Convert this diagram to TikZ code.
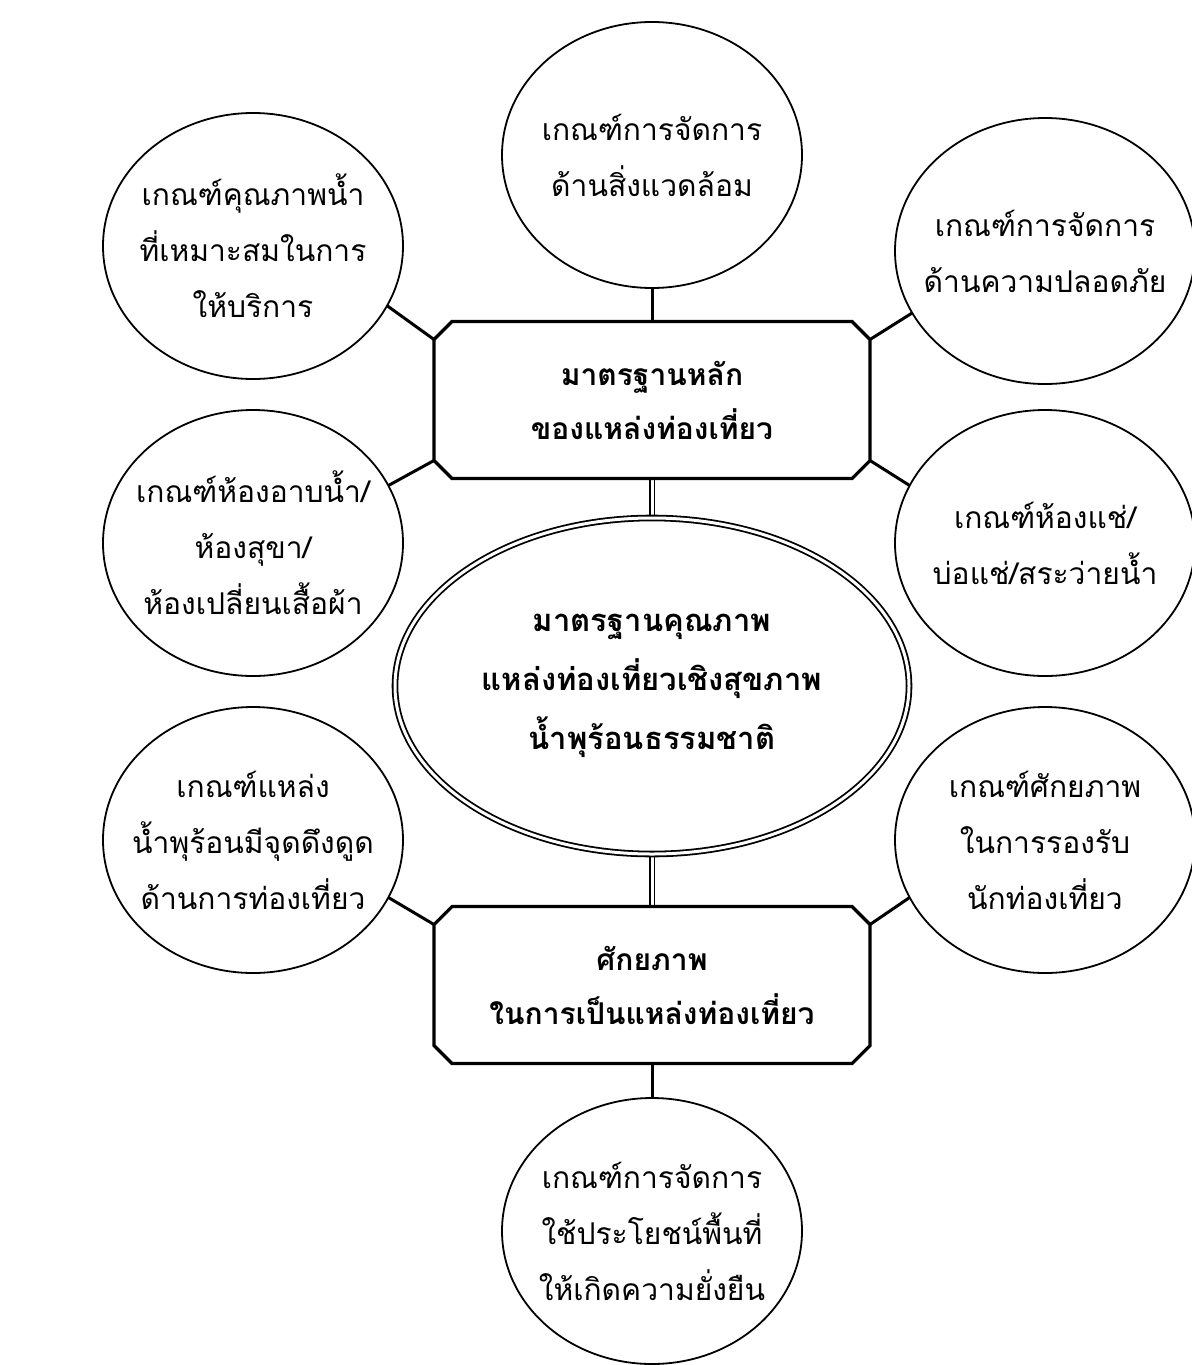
\documentclass[tikz,border=0pt]{standalone}
\usepackage{fontspec}
\newfontfamily\thaifont[Script=Thai]{Loma}
\usetikzlibrary{shapes.geometric,calc,backgrounds}
\begin{document}
\begin{tikzpicture}[x=0.5pt,y=-0.5pt,
  crit/.style={ellipse,draw,fill=white,line width=0.9pt,minimum width=150pt,minimum height=133pt,
    inner xsep=-20pt,inner ysep=-10pt,outer sep=0pt,align=center,font=\thaifont\fontsize{15}{28}\selectfont},
  core/.style={ellipse,draw,fill=white,double,line width=0.9pt,double distance=1.5pt,
    minimum width=257pt,minimum height=168pt,inner xsep=-20pt,inner ysep=-10pt,outer sep=0pt,align=center,
    font=\thaifont\bfseries\fontsize{15.5}{29.5}\selectfont},
  boxtext/.style={rectangle,inner sep=0pt,outer sep=0pt,minimum width=218pt,minimum height=78.5pt,
    align=center,font=\thaifont\bfseries\fontsize{15}{27}\selectfont},
  boxline/.style={line width=1.6pt,line join=miter,fill=white},
  conn/.style={line width=1.5pt},
  dbl/.style={double,line width=0.8pt,double distance=1.5pt}]
\useasboundingbox (0,0) rectangle (1191,1365);

% criteria ellipses
\node[crit] (c1) at (253,246) {เกณฑ์คุณภาพน้ำ\\ที่เหมาะสมในการ\\ให้บริการ};
\node[crit] (c2) at (652,155) {เกณฑ์การจัดการ\\ด้านสิ่งแวดล้อม};
\node[crit] (c3) at (1045,251) {เกณฑ์การจัดการ\\ด้านความปลอดภัย};
\node[crit] (c4) at (253,543) {เกณฑ์ห้องอาบน้ำ/\\ห้องสุขา/\\ห้องเปลี่ยนเสื้อผ้า};
\node[crit] (c5) at (1045,543) {เกณฑ์ห้องแช่/\\บ่อแช่/สระว่ายน้ำ};
\node[crit] (c6) at (253,840) {เกณฑ์แหล่ง\\น้ำพุร้อนมีจุดดึงดูด\\ด้านการท่องเที่ยว};
\node[crit] (c7) at (1045,840) {เกณฑ์ศักยภาพ\\ในการรองรับ\\นักท่องเที่ยว};
\node[crit] (c8) at (652,1231) {เกณฑ์การจัดการ\\ใช้ประโยชน์พื้นที่\\ให้เกิดความยั่งยืน};

% central ellipse
\node[core] (core) at (652,686) {มาตรฐานคุณภาพ\\แหล่งท่องเที่ยวเชิงสุขภาพ\\น้ำพุร้อนธรรมชาติ};

% chamfered boxes
\node[boxtext] (b1) at (652,400) {};
\draw[boxline] ($(b1.north west)+(18,0)$) -- ($(b1.north east)+(-18,0)$) -- ($(b1.north east)+(0,18)$)
  -- ($(b1.south east)+(0,-18)$) -- ($(b1.south east)+(-18,0)$) -- ($(b1.south west)+(18,0)$)
  -- ($(b1.south west)+(0,-18)$) -- ($(b1.north west)+(0,18)$) -- cycle;
\node[boxtext] at (b1) {มาตรฐานหลัก\\ของแหล่งท่องเที่ยว};
\coordinate (b1lt) at ($(b1.north west)+(0,18)$);
\coordinate (b1lb) at ($(b1.south west)+(0,-18)$);
\coordinate (b1rt) at ($(b1.north east)+(0,18)$);
\coordinate (b1rb) at ($(b1.south east)+(0,-18)$);

\node[boxtext] (b2) at (652,985) {};
\draw[boxline] ($(b2.north west)+(18,0)$) -- ($(b2.north east)+(-18,0)$) -- ($(b2.north east)+(0,18)$)
  -- ($(b2.south east)+(0,-18)$) -- ($(b2.south east)+(-18,0)$) -- ($(b2.south west)+(18,0)$)
  -- ($(b2.south west)+(0,-18)$) -- ($(b2.north west)+(0,18)$) -- cycle;
\node[boxtext] at (b2) {ศักยภาพ\\ในการเป็นแหล่งท่องเที่ยว};
\coordinate (b2lt) at ($(b2.north west)+(0,18)$);
\coordinate (b2rt) at ($(b2.north east)+(0,18)$);

% connectors
\begin{scope}[on background layer]
\draw[conn] (c2.south) -- (b1.north);
\draw[conn] (c1.-24) -- (b1lt);
\draw[conn] (c4.23) -- (b1lb);
\draw[conn] (c3.205) -- (b1rt);
\draw[conn] (c5.157) -- (b1rb);
\draw[dbl] (b1.south) -- (core.north);
\draw[dbl] (core.south) -- (b2.north);
\draw[conn] (c6.-23) -- (b2lt);
\draw[conn] (c7.203) -- (b2rt);
\draw[conn] (b2.south) -- (c8.north);
\end{scope}
\end{tikzpicture}
\end{document}
